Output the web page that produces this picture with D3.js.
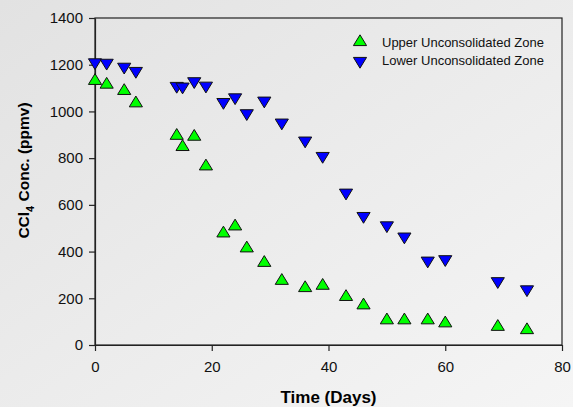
<!DOCTYPE html>
<html>
<head>
<meta charset="utf-8">
<script src="https://cdn.jsdelivr.net/npm/d3@7"></script>
<style>
  html, body { margin: 0; padding: 0; background: #ececec; }
  svg { display: block; }
  text { font-family: "Liberation Sans", Arial, sans-serif; }
</style>
</head>
<body>
<div id="chart"></div>
<script>
// chart data (time in days, CCl4 in ppmv)
const upper_days = [0, 2, 5, 7, 14, 15, 17, 19, 22, 24, 26, 29, 32, 36, 39, 43, 46, 50, 53, 57, 60, 69, 74];
const upper_conc = [1131, 1115, 1088, 1035, 896, 848, 892, 765, 478, 508, 414, 352, 275, 244, 254, 206, 170, 106, 106, 106, 93, 78, 64];
const lower_days = [0, 2, 5, 7, 14, 15, 17, 19, 22, 24, 26, 29, 32, 36, 39, 43, 46, 50, 53, 57, 60, 69, 74];
const lower_conc = [1210, 1208, 1191, 1173, 1109, 1106, 1129, 1110, 1040, 1060, 992, 1046, 952, 875, 809, 652, 552, 512, 464, 361, 367, 273, 238];
const series_names = ["Upper Unconsolidated Zone", "Lower Unconsolidated Zone"];
const x_ticks = [0, 20, 40, 60, 80];
const y_ticks = [0, 200, 400, 600, 800, 1000, 1200, 1400];

const width = 573;
const height = 407;
const margin = {top: 18, right: 11, bottom: 62, left: 95};
const plot_w = width - margin.left - margin.right;
const plot_h = height - margin.top - margin.bottom;

const svg = d3.select("#chart").append("svg")
	.attr("width", width)
	.attr("height", height);

// soft grey backdrop
const grad = svg.append("defs").append("linearGradient")
	.attr("id", "bg")
	.attr("x1", "0%").attr("y1", "0%")
	.attr("x2", "100%").attr("y2", "100%");
grad.append("stop").attr("offset", "0%").attr("stop-color", "#e2e2e2");
grad.append("stop").attr("offset", "100%").attr("stop-color", "#f5f5f5");

svg.append("rect")
	.attr("width", width)
	.attr("height", height)
	.attr("fill", "url(#bg)");

const x = d3.scaleLinear().domain([0, 80]).range([0, plot_w]);
const y = d3.scaleLinear().domain([0, 1400]).range([plot_h, 0]);

const g = svg.append("g")
	.attr("transform", `translate(${margin.left},${margin.top})`);

// frame round the plot
g.append("rect")
	.attr("width", plot_w)
	.attr("height", plot_h)
	.attr("fill", "none")
	.attr("stroke", "#222")
	.attr("stroke-width", 1.2);

const x_axis = g.append("g")
	.attr("transform", `translate(0,${plot_h})`)
	.call(d3.axisBottom(x).tickValues(x_ticks).tickFormat(d3.format("d"))
		.tickSize(6).tickPadding(10).tickSizeOuter(0));

const y_axis = g.append("g")
	.call(d3.axisLeft(y).tickValues(y_ticks).tickFormat(d3.format("d"))
		.tickSize(6).tickPadding(6).tickSizeOuter(0));

[x_axis, y_axis].forEach(function(a) {
	a.selectAll("path, line").attr("stroke", "#222").attr("stroke-width", 1.2);
	a.selectAll("text")
		.attr("fill", "#111")
		.style("font-size", "15px")
		.style("font-family", "'Liberation Sans', Arial, sans-serif");
});

// axis titles
svg.append("text")
	.attr("x", margin.left + plot_w / 2)
	.attr("y", 403)
	.attr("text-anchor", "middle")
	.style("font-size", "17px")
	.style("font-weight", "bold")
	.text("Time (Days)");

const y_title = svg.append("text")
	.attr("transform", `translate(29,${margin.top + plot_h / 2 - 11}) rotate(-90)`)
	.attr("text-anchor", "middle")
	.style("font-size", "15.5px")
	.style("font-weight", "bold");
y_title.append("tspan").text("CCl");
y_title.append("tspan").attr("dy", 5).style("font-size", "11px").text("4");
y_title.append("tspan").attr("dy", -5).text(" Conc. (ppmv)");

// custom triangle, a bit wider than tall
const tri = {
	draw(context, size) {
		const w = Math.sqrt(size * 2.4);
		const h = w * 0.82;
		context.moveTo(0, -h * 2 / 3);
		context.lineTo(w / 2, h / 3);
		context.lineTo(-w / 2, h / 3);
		context.closePath();
	}
};
const marker = d3.symbol().type(tri).size(72);

const upper = upper_days.map((d, i) => ({t: d, c: upper_conc[i]}));
const lower = lower_days.map((d, i) => ({t: d, c: lower_conc[i]}));

g.selectAll("path.upper")
	.data(upper)
	.join("path")
	.attr("class", "upper")
	.attr("d", marker)
	.attr("transform", d => `translate(${x(d.t)},${y(d.c)})`)
	.attr("fill", "#00ff00")
	.attr("stroke", "#111")
	.attr("stroke-width", 1);

g.selectAll("path.lower")
	.data(lower)
	.join("path")
	.attr("class", "lower")
	.attr("d", marker)
	.attr("transform", d => `translate(${x(d.t)},${y(d.c)}) rotate(180)`)
	.attr("fill", "#0000ff")
	.attr("stroke", "#111")
	.attr("stroke-width", 1);

// legend
const legend = svg.append("g").attr("transform", "translate(360,42)");
const legend_fill = ["#00ff00", "#0000ff"];
series_names.forEach(function(name, i) {
	const row = legend.append("g").attr("transform", `translate(0,${i * 18})`);
	row.append("path")
		.attr("d", marker)
		.attr("transform", i === 0 ? "translate(0,0)" : "translate(0,1) rotate(180)")
		.attr("fill", legend_fill[i])
		.attr("stroke", "#111")
		.attr("stroke-width", 1);
	row.append("text")
		.attr("x", 22)
		.attr("y", 5)
		.style("font-size", "13px")
		.attr("fill", "#111")
		.text(name);
});
</script>
</body>
</html>
